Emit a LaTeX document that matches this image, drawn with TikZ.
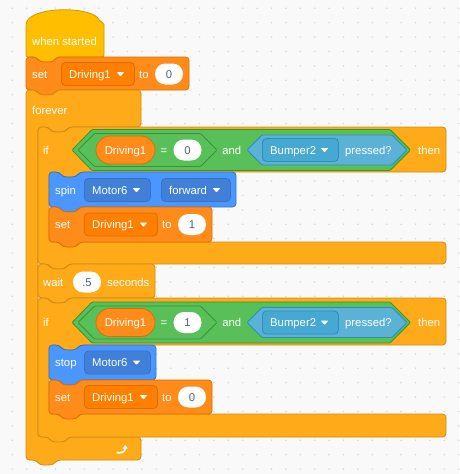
\documentclass[tikz,border=0pt]{standalone}
\usepackage{fontspec}
\setmainfont{Liberation Sans}
\usetikzlibrary{arrows.meta}
\definecolor{bg}{HTML}{F9F9F9}
\definecolor{dotc}{HTML}{D9D9D9}
\definecolor{evf}{HTML}{FFBF00}\definecolor{evd}{HTML}{CC9900}
\definecolor{varf}{HTML}{FF8C1A}\definecolor{vars}{HTML}{FF8000}\definecolor{vard}{HTML}{DB6E00}
\definecolor{ctlf}{HTML}{FFAB19}\definecolor{ctld}{HTML}{CF8B17}
\definecolor{motf}{HTML}{4C97FF}\definecolor{mots}{HTML}{4280D7}\definecolor{motd}{HTML}{3373CC}
\definecolor{opf}{HTML}{59C059}\definecolor{opd}{HTML}{389438}
\definecolor{senf}{HTML}{5CB1D6}\definecolor{sens}{HTML}{47A8D1}\definecolor{send}{HTML}{2E8EB8}
\definecolor{numt}{HTML}{575E75}
\tikzset{
  blk/.style={rounded corners=3.5, line width=0.8},
  evblk/.style={blk, fill=evf, draw=evd},
  varblk/.style={blk, fill=varf, draw=vard},
  ctlblk/.style={blk, fill=ctlf, draw=ctld},
  motblk/.style={blk, fill=motf, draw=motd},
  txt/.style={font=\fontsize{11.3}{13}\selectfont, text=white, inner sep=0, text height=8.1, text depth=0},
  ddbox/.style={rectangle, rounded corners=4, minimum height=23, line width=0.8, inner sep=0},
  vdd/.style={fill=vars, draw=vard},
  mdd/.style={fill=mots, draw=motd},
  sdd/.style={fill=sens, draw=send},
  oval/.style={txt, text=numt, fill=white, rounded corners=10.4, minimum height=21, minimum width=28},
  pill/.style={txt, fill=varf, draw=vard, line width=0.8, rounded corners=13.9, minimum height=28, minimum width=59},
  hexo/.style={fill=opf, draw=opd, line width=0.8, rounded corners=1},
  hexs/.style={fill=senf, draw=send, line width=0.8, rounded corners=1},
}
% stack block: style, x1, y1, x2, y2
\newcommand{\stk}[5]{%
\path[#1] (#2,#3) -- ({#2+10},#3) -- ({#2+14},{#3+5}) -- ({#2+27},{#3+5}) -- ({#2+31},#3) -- (#4,#3) -- (#4,#5) -- ({#2+31},#5) -- ({#2+27},{#5+5}) -- ({#2+14},{#5+5}) -- ({#2+10},#5) -- (#2,#5) -- cycle;}
% C block: style, x1, y1, x2, ya, xi, yb, yc
\newcommand{\cblk}[8]{%
\path[#1] (#2,#3) -- ({#2+10},#3) -- ({#2+14},{#3+5}) -- ({#2+27},{#3+5}) -- ({#2+31},#3) -- (#4,#3) -- (#4,#5) -- ({#6+31},#5) -- ({#6+27},{#5+5}) -- ({#6+14},{#5+5}) -- ({#6+10},#5) -- (#6,#5) -- (#6,#7) -- (#4,#7) -- (#4,#8) -- ({#2+31},#8) -- ({#2+27},{#8+5}) -- ({#2+14},{#8+5}) -- ({#2+10},#8) -- (#2,#8) -- cycle;}
% dropdown: name, xl, width, yc, style, text
\newcommand{\ddn}[6]{%
\node[ddbox,#5,minimum width=#3,anchor=west] (#1) at (#2,#4) {};
\node[txt,anchor=west] (#1t) at ({#2+8},#4) {#6};
\fill[white, rounded corners=0.6] ({#2+#3-13.5-3.8},{#4-1.9}) -- ({#2+#3-13.5+3.8},{#4-1.9}) -- ({#2+#3-13.5},{#4+2.4}) -- cycle;}
% condition row
\newcommand{\cond}[2]{%
\node[txt,anchor=west] (if#1) at (43,150) {if};
\path[hexo] (72,150) -- (92,129.5) -- (390,129.5) -- (410.5,150) -- (390,170.5) -- (92,170.5) -- cycle;
\path[hexo] (78,150) -- (94.5,133.5) -- (200.5,133.5) -- (217,150) -- (200.5,166.5) -- (94.5,166.5) -- cycle;
\node[pill] (pill#1) at (125.5,150) {Driving1};
\node[txt] (eq#1) at (164,150) {=};
\node[oval] (num#1) at (187.5,150) {#2};
\node[txt] (and#1) at (231.7,150) {and};
\path[hexs] (247,150) -- (262,135) -- (392,135) -- (407,150) -- (392,165) -- (262,165) -- cycle;
\ddn{bump#1}{262}{76}{150}{sdd}{Bumper2}
\node[txt,anchor=west] (pr#1) at (345,150) {pressed?};
\node[txt,anchor=west] (then#1) at (418,150) {then};}
\begin{document}
\begin{tikzpicture}[x=1pt,y=-1pt]
\useasboundingbox (0,0) rectangle (459,474);
\fill[bg] (0,0) rectangle (459,474);
\foreach \i in {0,...,31} \foreach \j in {0,...,32} \fill[dotc] ({12.3+14.4*\i},{8.3+14.4*\j}) circle (0.9);
% hat block
\path[evblk, rounded corners=2] (26,57) -- (26,24) .. controls (32,6) and (94,6) .. (100,22) -- (104,22.5) -- (104,57) -- (57,57) -- (53,62) -- (40,62) -- (36,57) -- cycle;
\node[txt,anchor=west] (when) at (32,41) {when started};
% set Driving1 to 0
\stk{varblk}{26}{57}{189}{90}
\node[txt,anchor=west] (set1) at (32,74) {set};
\ddn{dv1}{61}{73}{74}{vdd}{Driving1}
\node[txt,anchor=west] (to1) at (139,74) {to};
\node[oval] (o1) at (169,74) {0};
% forever
\cblk{ctlblk}{26}{90}{141}{127}{38}{437}{460}
\node[txt,anchor=west] (forever) at (32,110) {forever};
\draw[white, line width=1.7, -{Triangle[length=3.6,width=5.2]}] (116.5,452.5) .. controls (120.5,453.5) and (125.5,452) .. (125,445) coordinate (retarrow);
% if 1
\cblk{ctlblk}{38}{127}{446}{172}{49}{242}{264}
\cond{a}{0}
\stk{motblk}{49}{172}{236}{207}
\node[txt,anchor=west] (spin) at (55,190) {spin};
\ddn{m1}{84}{66}{190}{mdd}{Motor6}
\ddn{fw}{161}{69}{190}{mdd}{forward}
\stk{varblk}{49}{207}{212}{242}
\node[txt,anchor=west] (set2) at (55,224.5) {set};
\ddn{dv2}{84}{73}{224.5}{vdd}{Driving1}
\node[txt,anchor=west] (to2) at (162,224.5) {to};
\node[oval] (o2) at (192,224.5) {1};
% wait
\stk{ctlblk}{38}{264}{155}{298}
\node[txt,anchor=west] (wait) at (43,282) {wait};
\node[oval] (o3) at (87,282) {.5};
\node[txt,anchor=west] (sec) at (107,282) {seconds};
% if 2
\cblk{ctlblk}{38}{298}{446}{345}{49}{414}{437}
\begin{scope}[shift={(0,172.5)}]
\cond{b}{1}
\end{scope}
\stk{motblk}{49}{345}{156}{380}
\node[txt,anchor=west] (stop) at (55,362.5) {stop};
\ddn{m2}{84}{66}{362.5}{mdd}{Motor6}
\stk{varblk}{49}{380}{212}{414}
\node[txt,anchor=west] (set3) at (55,397) {set};
\ddn{dv3}{84}{73}{397}{vdd}{Driving1}
\node[txt,anchor=west] (to3) at (162,397) {to};
\node[oval] (o4) at (192,397) {0};
\end{tikzpicture}
\end{document}
